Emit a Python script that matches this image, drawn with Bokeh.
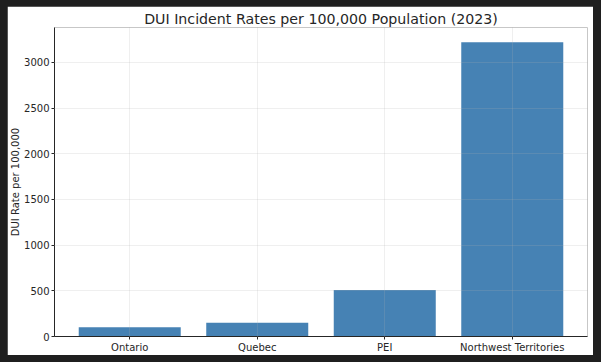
from bokeh.plotting import figure
from bokeh.models import FactorRange, Range1d, ColumnDataSource, FixedTicker
from bokeh.embed import file_html
from bokeh.resources import INLINE

regions = ["Ontario", "Quebec", "PEI", "Northwest Territories"]
rates = [100, 150, 510, 3220]
y_ticks = [0, 500, 1000, 1500, 2000, 2500, 3000]

src = ColumnDataSource(dict(region=regions, rate=rates))

p = figure(
    x_range=FactorRange(*regions, range_padding=0.045, range_padding_units="percent"),
    y_range=Range1d(0, max(rates) * 1.05),
    width=586, height=349,
    output_backend="svg", toolbar_location=None,
    title="DUI Incident Rates per 100,000 Population (2023)",
    min_border_left=46, min_border_right=6, min_border_top=21, min_border_bottom=18,
)
p.vbar(x="region", top="rate", width=0.8, source=src, color="#4682B4", line_color=None)

p.title.align = "center"
p.title.text_font = "DejaVu Sans"
p.title.text_font_size = "14.2px"
p.title.text_font_style = "normal"
p.title.text_color = "#262626"
p.title.standoff = 2

p.outline_line_color = None
p.background_fill_color = "white"
p.border_fill_color = "white"

for ax in (p.xaxis[0], p.yaxis[0]):
    ax.major_label_text_font = "DejaVu Sans"
    ax.major_label_text_font_size = "10px"
    ax.major_label_text_color = "#262626"
    ax.axis_line_color = "#262626"
    ax.axis_line_width = 1
    ax.major_tick_line_color = "#262626"
    ax.major_tick_out = 3
    ax.major_tick_in = 0
    ax.minor_tick_out = 0
    ax.minor_tick_in = 0
    ax.major_label_standoff = 2

p.yaxis.ticker = FixedTicker(ticks=y_ticks)
p.yaxis.axis_label = "DUI Rate per 100,000"
p.yaxis.axis_label_text_font = "DejaVu Sans"
p.yaxis.axis_label_text_font_size = "10px"
p.yaxis.axis_label_text_font_style = "normal"
p.yaxis.axis_label_text_color = "#262626"
p.yaxis.axis_label_standoff = 0

for g in (p.xgrid[0], p.ygrid[0]):
    g.grid_line_color = "#b0b0b0"
    g.grid_line_alpha = 0.4
    g.grid_line_dash = "1 1"
    g.grid_line_width = 1
    g.level = "annotation"

html = file_html(p, INLINE)
css = "<style>html,body{margin:0 !important;padding:0;background-color:#1f1f1f !important;}body{padding:6px 0 0 7px !important;}</style>"
html = html.replace("</head>", css + "</head>", 1)
open("out.html", "w").write(html)
